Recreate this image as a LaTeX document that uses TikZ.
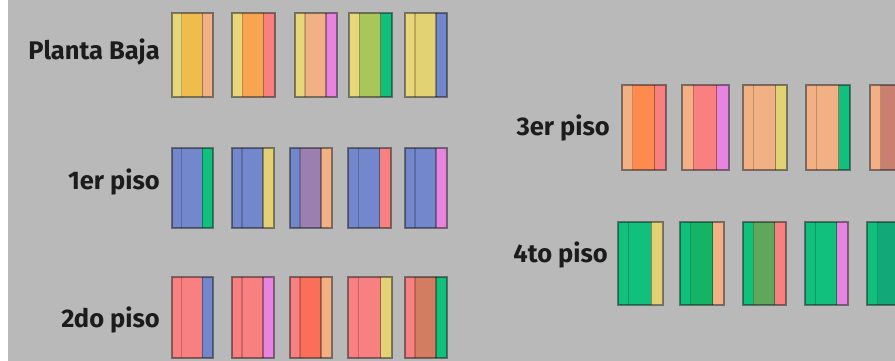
\documentclass[tikz,border=0pt]{standalone}
\usepackage{fontspec}
\setmainfont{Fira Sans}
\definecolor{bg}{HTML}{B9B9B9}
\definecolor{lyel}{HTML}{E8D67A}
\definecolor{gold}{HTML}{EFBD4E}
\definecolor{peach}{HTML}{F2B184}
\definecolor{orng}{HTML}{F8A552}
\definecolor{coral}{HTML}{F98080}
\definecolor{pink}{HTML}{E684E0}
\definecolor{ygrn}{HTML}{A8C65C}
\definecolor{grn}{HTML}{12C07E}
\definecolor{yel}{HTML}{E2D274}
\definecolor{blue}{HTML}{7388CC}
\definecolor{purp}{HTML}{9A7FB0}
\definecolor{redo}{HTML}{FB6F5A}
\definecolor{brn}{HTML}{D27D62}
\definecolor{orng2}{HTML}{FF8A50}
\definecolor{dgrn}{HTML}{14B464}
\definecolor{olive}{HTML}{5EA85C}
\definecolor{teal}{HTML}{12A878}
\definecolor{brn2}{HTML}{C98070}
\definecolor{txt}{HTML}{1C1C1C}
\tikzset{
  lbl/.style={anchor=east, inner sep=0pt, font=\fontsize{25.5}{28}\selectfont\bfseries, text=txt},
  edge/.style={draw=black, draw opacity=0.42, line width=1.3pt},
  divl/.style={draw=black, draw opacity=0.2, line width=1.2pt},
  divr/.style={draw=black, draw opacity=0.35, line width=1.2pt}
}
% #1 x-left, #2 x-right, #3 y-top, #4 y-bottom, #5 left, #6 middle, #7 right
\newcommand\drawbox[7]{%
  \pgfmathsetmacro\xa{#1+0.24*(#2-#1)}%
  \pgfmathsetmacro\xb{#1+0.74*(#2-#1)}%
  \fill[#5] (#1,#3) rectangle (\xa,#4);
  \fill[#6] (\xa,#3) rectangle (\xb,#4);
  \fill[#7] (\xb,#3) rectangle (#2,#4);
  \draw[divl] (\xa,#3) -- (\xa,#4);
  \draw[divr] (\xb,#3) -- (\xb,#4);
  \draw[edge] (#1,#3) rectangle (#2,#4);
}
\begin{document}
\begin{tikzpicture}[x=1pt,y=-1pt]
\useasboundingbox (0,0) rectangle (895,361);
\fill[white] (0,0) rectangle (895,361);
\fill[bg] (8,0) rectangle (895,361);
\begin{scope}
\clip (0,0) rectangle (895,361);
% Planta Baja
\node[lbl] (pb) at (160,52) {Planta Baja};
\drawbox{172}{213}{13}{97}{lyel}{gold}{peach}
\drawbox{232}{275}{13}{97}{lyel}{orng}{coral}
\drawbox{295}{337}{13}{97}{lyel}{peach}{pink}
\drawbox{349}{392}{13}{97}{lyel}{ygrn}{grn}
\drawbox{405}{447}{13}{97}{lyel}{yel}{blue}
% 1er piso
\node[lbl] (p1) at (160,182) {1er piso};
\drawbox{172}{213}{148}{228}{blue}{blue}{grn}
\drawbox{232}{274}{148}{228}{blue}{blue}{yel}
\drawbox{290}{332}{148}{228}{blue}{purp}{peach}
\drawbox{348}{391}{148}{228}{blue}{blue}{coral}
\drawbox{405}{447}{148}{228}{blue}{blue}{pink}
% 2do piso
\node[lbl] (p2) at (160,320) {2do piso};
\drawbox{172}{213}{277}{358}{coral}{coral}{blue}
\drawbox{232}{274}{277}{358}{coral}{coral}{pink}
\drawbox{290}{332}{277}{358}{coral}{redo}{peach}
\drawbox{348}{392}{277}{358}{coral}{coral}{yel}
\drawbox{405}{447}{277}{358}{coral}{brn}{grn}
% 3er piso
\node[lbl] (p3) at (610,128) {3er piso};
\drawbox{622}{666}{85}{170}{peach}{orng2}{coral}
\drawbox{682}{729}{85}{170}{peach}{coral}{pink}
\drawbox{743}{787}{85}{170}{peach}{peach}{yel}
\drawbox{806}{850}{85}{170}{peach}{peach}{grn}
\drawbox{870}{914}{85}{170}{peach}{brn2}{brn2}
% 4to piso
\node[lbl] (p4) at (608,255) {4to piso};
\drawbox{618}{663}{222}{305}{grn}{grn}{yel}
\drawbox{680}{724}{222}{305}{grn}{dgrn}{peach}
\drawbox{743}{786}{222}{305}{grn}{olive}{coral}
\drawbox{805}{848}{222}{305}{grn}{grn}{pink}
\drawbox{867}{911}{222}{305}{grn}{teal}{teal}
\end{scope}
\end{tikzpicture}
\end{document}
